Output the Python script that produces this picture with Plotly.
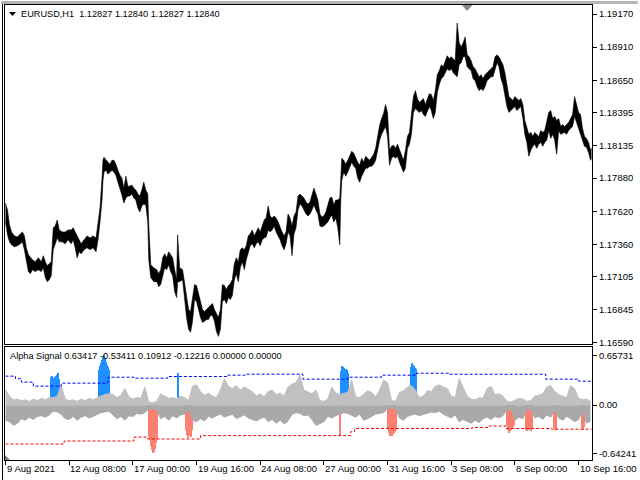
import plotly.graph_objects as go

# ---------------- data: main price pane (EURUSD H1, sampled bars) ----------------
price_bar = [0, 2, 4, 6, 9, 12, 15, 17, 19, 21,
             23, 25, 27, 30, 33, 36, 38, 40, 42, 44,
             46, 48, 50, 52, 54, 57, 60, 63, 66, 68,
             70, 72, 74, 76, 79, 82, 85, 88, 91, 93,
             95, 97, 98, 99, 101, 103, 105, 107, 109, 111,
             113, 115, 117, 119, 121, 123, 125, 127, 129, 131,
             133, 135, 137, 139, 141, 143, 144, 146, 149, 152,
             154, 156, 158, 160, 162, 164, 166, 168, 170, 172,
             173, 175, 178, 180, 182, 184, 186, 188, 190, 192,
             194, 196, 198, 200, 202, 204, 206, 208, 210, 212,
             214, 216, 218, 220, 222, 224, 226, 228, 230, 232,
             234, 236, 238, 240, 242, 244, 246, 248, 250, 252,
             254, 256, 258, 260, 262, 264, 266, 268, 270, 272,
             274, 276, 278, 280, 282, 284, 286, 288, 290, 292,
             294, 296, 298, 300, 302, 304, 306, 308, 310, 312,
             314, 316, 318, 320, 322, 324, 326, 328, 330, 332,
             334, 336, 337, 338, 340, 342, 344, 346, 348, 350,
             352, 354, 356, 358, 360, 362, 364, 366, 368, 370,
             372, 374, 376, 378, 380, 382, 384, 386, 388, 390,
             392, 394, 396, 398, 400, 402, 404, 406, 408, 410,
             412, 414, 416, 418, 420, 422, 424, 426, 428, 430,
             432, 434, 436, 438, 440, 442, 444, 446, 448, 450,
             452, 454, 456, 458, 460, 462, 464, 466, 468, 470,
             472, 474, 476, 478, 480, 482, 484, 486, 488, 490,
             492, 494, 496, 498, 500, 502, 504, 506, 508, 510,
             512, 514, 516, 518, 520, 522, 524, 526, 528, 530,
             532, 534, 536, 538, 540, 542, 544, 546, 548, 550,
             552, 554, 556, 558, 560, 562, 564, 566, 568, 570,
             572, 574, 576, 578, 580, 582, 584, 586, 588, 589]

price_high = [1.17684, 1.17629, 1.17512, 1.17457, 1.17426, 1.17418, 1.17442, 1.17457, 1.17426, 1.17332,
              1.17278, 1.17254, 1.17238, 1.17223, 1.17254, 1.17223, 1.17270, 1.17223, 1.17192, 1.17207,
              1.17223, 1.17489, 1.17504, 1.17551, 1.17473, 1.17457, 1.17457, 1.17473, 1.17473, 1.17489,
              1.17457, 1.17426, 1.17395, 1.17364, 1.17395, 1.17426, 1.17410, 1.17426, 1.17410, 1.17520,
              1.17645, 1.17880, 1.18020, 1.18044, 1.18020, 1.18005, 1.17989, 1.18020, 1.18020, 1.17989,
              1.17942, 1.17903, 1.17880, 1.17801, 1.17895, 1.17817, 1.17817, 1.17825, 1.17801, 1.17786,
              1.17755, 1.17739, 1.17786, 1.17848, 1.17786, 1.17755, 1.17512, 1.17199, 1.17176, 1.17160,
              1.17129, 1.17160, 1.17254, 1.17285, 1.17254, 1.17301, 1.17278, 1.17254, 1.17160, 1.17082,
              1.17434, 1.17176, 1.17160, 1.17066, 1.16957, 1.16847, 1.16832, 1.16926, 1.17043, 1.17035,
              1.16973, 1.16910, 1.16847, 1.16832, 1.16847, 1.16863, 1.16879, 1.16894, 1.16847, 1.16816,
              1.16785, 1.16847, 1.17043, 1.17035, 1.17004, 1.17035, 1.17051, 1.17082, 1.17207, 1.17254,
              1.17223, 1.17317, 1.17332, 1.17317, 1.17348, 1.17426, 1.17442, 1.17473, 1.17426, 1.17457,
              1.17489, 1.17457, 1.17504, 1.17551, 1.17567, 1.17661, 1.17583, 1.17567, 1.17583, 1.17567,
              1.17536, 1.17489, 1.17457, 1.17426, 1.17457, 1.17598, 1.17567, 1.17504, 1.17583, 1.17614,
              1.17739, 1.17755, 1.17739, 1.17723, 1.17692, 1.17676, 1.17692, 1.17739, 1.17801, 1.17755,
              1.17708, 1.17598, 1.17575, 1.17583, 1.17614, 1.17669, 1.17723, 1.17731, 1.17669, 1.17708,
              1.17708, 1.17723, 1.17958, 1.18036, 1.18020, 1.17989, 1.18020, 1.18060, 1.18091, 1.18075,
              1.18036, 1.18005, 1.17981, 1.18036, 1.18005, 1.18052, 1.18036, 1.18020, 1.18044, 1.18067,
              1.18114, 1.18216, 1.18294, 1.18349, 1.18388, 1.18458, 1.18396, 1.18099, 1.18130, 1.18138,
              1.18114, 1.18146, 1.18099, 1.18067, 1.18020, 1.18099, 1.18208, 1.18239, 1.18411, 1.18521,
              1.18568, 1.18505, 1.18474, 1.18490, 1.18505, 1.18458, 1.18505, 1.18544, 1.18537, 1.18490,
              1.18568, 1.18693, 1.18724, 1.18771, 1.18756, 1.18802, 1.18842, 1.18818, 1.18834, 1.18818,
              1.18802, 1.19100, 1.18943, 1.18912, 1.18943, 1.18990, 1.18849, 1.18834, 1.18802, 1.18756,
              1.18740, 1.18709, 1.18677, 1.18693, 1.18662, 1.18693, 1.18709, 1.18724, 1.18740, 1.18756,
              1.18834, 1.18849, 1.18834, 1.18802, 1.18771, 1.18709, 1.18615, 1.18521, 1.18505, 1.18490,
              1.18521, 1.18505, 1.18490, 1.18505, 1.18458, 1.18333, 1.18286, 1.18224, 1.18239, 1.18208,
              1.18239, 1.18224, 1.18208, 1.18255, 1.18239, 1.18255, 1.18318, 1.18396, 1.18411, 1.18349,
              1.18365, 1.18333, 1.18349, 1.18286, 1.18302, 1.18286, 1.18302, 1.18318, 1.18349, 1.18380,
              1.18521, 1.18458, 1.18396, 1.18380, 1.18271, 1.18208, 1.18192, 1.18161, 1.18099, 1.18114]

price_low = [1.17536, 1.17434, 1.17379, 1.17356, 1.17340, 1.17348, 1.17364, 1.17379, 1.17317, 1.17223,
             1.17145, 1.17129, 1.17160, 1.17145, 1.17160, 1.17145, 1.17176, 1.17098, 1.17066, 1.17082,
             1.17113, 1.17317, 1.17371, 1.17410, 1.17379, 1.17379, 1.17364, 1.17395, 1.17364, 1.17395,
             1.17332, 1.17254, 1.17301, 1.17285, 1.17317, 1.17332, 1.17317, 1.17332, 1.17301, 1.17395,
             1.17536, 1.17708, 1.17864, 1.17927, 1.17942, 1.17911, 1.17927, 1.17942, 1.17927, 1.17903,
             1.17848, 1.17801, 1.17747, 1.17684, 1.17723, 1.17739, 1.17739, 1.17755, 1.17723, 1.17708,
             1.17645, 1.17614, 1.17661, 1.17676, 1.17669, 1.17536, 1.17238, 1.17098, 1.17066, 1.17066,
             1.17027, 1.17043, 1.17121, 1.17176, 1.17160, 1.17199, 1.17145, 1.17113, 1.16988, 1.16941,
             1.17066, 1.17066, 1.17082, 1.16910, 1.16785, 1.16691, 1.16668, 1.16754, 1.16926, 1.16910,
             1.16847, 1.16785, 1.16746, 1.16754, 1.16769, 1.16769, 1.16801, 1.16801, 1.16754, 1.16675,
             1.16636, 1.16691, 1.16910, 1.16926, 1.16894, 1.16941, 1.16926, 1.16957, 1.17082, 1.17129,
             1.17066, 1.17176, 1.17223, 1.17160, 1.17238, 1.17301, 1.17348, 1.17364, 1.17332, 1.17364,
             1.17379, 1.17348, 1.17395, 1.17410, 1.17418, 1.17473, 1.17457, 1.17473, 1.17504, 1.17457,
             1.17426, 1.17395, 1.17348, 1.17317, 1.17364, 1.17457, 1.17426, 1.17270, 1.17442, 1.17489,
             1.17629, 1.17676, 1.17661, 1.17629, 1.17598, 1.17583, 1.17598, 1.17629, 1.17669, 1.17629,
             1.17598, 1.17504, 1.17497, 1.17504, 1.17520, 1.17536, 1.17567, 1.17590, 1.17536, 1.17567,
             1.17489, 1.17356, 1.17708, 1.17864, 1.17927, 1.17895, 1.17927, 1.17974, 1.18005, 1.17974,
             1.17958, 1.17880, 1.17848, 1.17895, 1.17927, 1.17958, 1.17958, 1.17974, 1.17974, 1.17989,
             1.18020, 1.18099, 1.18177, 1.18224, 1.18255, 1.18286, 1.18208, 1.17981, 1.18036, 1.18052,
             1.18036, 1.18052, 1.18005, 1.17958, 1.17927, 1.17958, 1.18114, 1.18146, 1.18224, 1.18396,
             1.18427, 1.18411, 1.18396, 1.18411, 1.18380, 1.18365, 1.18411, 1.18443, 1.18411, 1.18349,
             1.18396, 1.18552, 1.18615, 1.18662, 1.18677, 1.18709, 1.18740, 1.18724, 1.18740, 1.18709,
             1.18693, 1.18677, 1.18771, 1.18787, 1.18834, 1.18834, 1.18756, 1.18740, 1.18724, 1.18662,
             1.18646, 1.18599, 1.18568, 1.18583, 1.18568, 1.18599, 1.18646, 1.18662, 1.18677, 1.18677,
             1.18740, 1.18787, 1.18756, 1.18662, 1.18615, 1.18521, 1.18443, 1.18396, 1.18411, 1.18427,
             1.18443, 1.18411, 1.18427, 1.18443, 1.18349, 1.18224, 1.18161, 1.18052, 1.18099, 1.18130,
             1.18146, 1.18114, 1.18146, 1.18161, 1.18130, 1.18161, 1.18177, 1.18255, 1.18192, 1.18224,
             1.18177, 1.18067, 1.18255, 1.18224, 1.18232, 1.18239, 1.18224, 1.18255, 1.18271, 1.18286,
             1.18365, 1.18318, 1.18271, 1.18224, 1.18177, 1.18130, 1.18122, 1.18083, 1.18020, 1.18036]

price_ticks = [1.19170, 1.18910, 1.18650, 1.18395, 1.18135, 1.17880,
               1.17620, 1.17360, 1.17105, 1.16845, 1.16590]

# ---------------- data: Alpha Signal indicator pane ----------------
grey_pos = [0.20, 0.12, 0.07, 0.08, 0.06, 0.07, 0.05, 0.08, 0.06, 0.09,
            0.07, 0.10, 0.10, 0.12, 0.26, 0.08, 0.06, 0.07, 0.05, 0.08,
            0.06, 0.09, 0.07, 0.10, 0.12, 0.14, 0.15, 0.14, 0.10, 0.13,
            0.22, 0.11, 0.08, 0.10, 0.09, 0.24, 0.04, 0.03, 0.05, 0.15,
            0.12, 0.09, 0.10, 0.08, 0.12, 0.10, 0.06, 0.25, 0.27, 0.18,
            0.13, 0.16, 0.12, 0.10, 0.20, 0.35, 0.25, 0.22, 0.26, 0.20,
            0.24, 0.21, 0.18, 0.12, 0.15, 0.11, 0.18, 0.20, 0.14, 0.16,
            0.12, 0.24, 0.28, 0.30, 0.40, 0.20, 0.18, 0.15, 0.20, 0.06,
            0.05, 0.08, 0.24, 0.16, 0.14, 0.15, 0.17, 0.33, 0.11, 0.10,
            0.14, 0.19, 0.17, 0.11, 0.20, 0.33, 0.30, 0.06, 0.05, 0.17,
            0.19, 0.24, 0.26, 0.20, 0.10, 0.12, 0.19, 0.18, 0.25, 0.27,
            0.24, 0.22, 0.12, 0.10, 0.35, 0.24, 0.12, 0.08, 0.07, 0.10,
            0.09, 0.22, 0.25, 0.14, 0.15, 0.12, 0.05, 0.04, 0.07, 0.09,
            0.08, 0.05, 0.06, 0.12, 0.13, 0.15, 0.24, 0.26, 0.18, 0.14,
            0.12, 0.10, 0.26, 0.22, 0.09, 0.07, 0.08, 0.05]

grey_neg = [-0.20, -0.22, -0.27, -0.24, -0.18, -0.20, -0.16, -0.19, -0.15, -0.14,
            -0.16, -0.13, -0.08, -0.09, -0.12, -0.18, -0.19, -0.15, -0.20, -0.16,
            -0.14, -0.17, -0.15, -0.12, -0.10, -0.09, -0.08, -0.13, -0.18, -0.15,
            -0.20, -0.14, -0.15, -0.11, -0.12, -0.10, -0.05, -0.05, -0.06, -0.18,
            -0.15, -0.20, -0.14, -0.17, -0.13, -0.12, -0.06, -0.20, -0.22, -0.18,
            -0.21, -0.15, -0.17, -0.14, -0.12, -0.16, -0.14, -0.12, -0.18, -0.15,
            -0.13, -0.17, -0.19, -0.21, -0.18, -0.16, -0.22, -0.19, -0.24, -0.20,
            -0.25, -0.21, -0.12, -0.10, -0.11, -0.14, -0.13, -0.19, -0.27, -0.25,
            -0.22, -0.15, -0.17, -0.14, -0.12, -0.10, -0.11, -0.13, -0.16, -0.12,
            -0.20, -0.18, -0.15, -0.12, -0.11, -0.10, -0.05, -0.04, -0.05, -0.17,
            -0.20, -0.15, -0.13, -0.12, -0.14, -0.12, -0.11, -0.09, -0.10, -0.08,
            -0.12, -0.14, -0.17, -0.13, -0.22, -0.19, -0.21, -0.24, -0.20, -0.23,
            -0.18, -0.16, -0.19, -0.15, -0.17, -0.14, -0.06, -0.05, -0.20, -0.16,
            -0.18, -0.06, -0.05, -0.17, -0.15, -0.19, -0.13, -0.16, -0.07, -0.17,
            -0.20, -0.15, -0.18, -0.22, -0.19, -0.08, -0.24, -0.21]
grey_bar = list(range(0, 4 * len(grey_pos), 4))

blue_bar = [46, 47, 48, 49, 50, 51, 52, 53, 54,
            94, 95, 96, 97, 98, 99, 100, 101, 102, 103, 104,
            173,
            337, 338, 339, 340, 341, 342, 343, 344,
            408, 409, 410, 411, 412, 413]
blue_val = [0.37, 0.39, 0.36, 0.35, 0.37, 0.38, 0.40, 0.42, 0.35,
            0.46, 0.51, 0.55, 0.59, 0.63, 0.65731, 0.62, 0.57, 0.53, 0.50, 0.46,
            0.42,
            0.45, 0.51, 0.50, 0.49, 0.47, 0.48, 0.46, 0.43,
            0.50, 0.56, 0.53, 0.51, 0.49, 0.48]

red_bar = [144, 145, 146, 147, 148, 149, 150, 151, 152,
           181, 182, 183, 184, 185, 186, 187,
           336,
           384, 385, 386, 387, 388, 389, 390, 391, 392, 393,
           504, 505, 506, 507, 508, 509, 510, 511,
           523, 524, 525, 526, 527, 528, 529,
           551, 552, 553,
           579, 580, 581]
red_val = [-0.43, -0.47, -0.54, -0.60, -0.64241, -0.63, -0.58, -0.51, -0.45,
           -0.34, -0.40, -0.44, -0.42, -0.37, -0.43, -0.34,
           -0.42,
           -0.32, -0.37, -0.41, -0.42, -0.41, -0.39, -0.37, -0.36, -0.35, -0.34,
           -0.28, -0.34, -0.38, -0.35, -0.33, -0.31, -0.29, -0.27,
           -0.33, -0.35, -0.34, -0.29, -0.34, -0.35, -0.32,
           -0.31, -0.34, -0.32,
           -0.31, -0.34, -0.30]

upper_bar = [0, 10, 16, 28, 56, 103, 129, 163, 223, 241, 299, 344, 378, 413, 446, 543, 576, 589]
upper_val = [0.385, 0.35, 0.305, 0.252, 0.292, 0.371, 0.358, 0.38, 0.398, 0.411,
             0.345, 0.371, 0.398, 0.424, 0.41, 0.345, 0.318, 0.318]

lower_bar = [0, 59, 129, 143, 196, 347, 351, 469, 486, 503, 549, 589]
lower_val = [-0.517, -0.477, -0.424, -0.45, -0.405, -0.354, -0.31, -0.296, -0.278,
             -0.31, -0.32, -0.32]

ind_ticks = [0.65731, 0.0, -0.64241]
ind_tick_text = ["0.65731", "0.00", "-0.64241"]

time_tick_bar = [0, 64, 128, 192, 256, 320, 384, 448, 512, 576]
time_tick_text = ["9 Aug 2021", "12 Aug 08:00", "17 Aug 00:00", "19 Aug 16:00",
                  "24 Aug 08:00", "27 Aug 00:00", "31 Aug 16:00", "3 Sep 08:00",
                  "8 Sep 00:00", "10 Sep 16:00"]

header_text = "EURUSD,H1 \u00a01.12827 1.12840 1.12827 1.12840"
ind_text = "Alpha Signal 0.63417 -0.53411 0.10912 -0.12216 0.00000 0.00000"

# ---------------- figure ----------------
FONT = "Liberation Sans, Arial, sans-serif"
W, H = 640, 480
ML, MR, MT, MB = 4, 46, 4, 20
PW, PH = W - ML - MR, H - MT - MB


def px(x):
    return (x - ML) / PW


def py(y):
    return (H - MB - y) / PH


fig = go.Figure()

fig.add_trace(go.Scatter(x=price_bar, y=price_high, mode="lines",
                         line=dict(color="black", width=0.6), xaxis="x", yaxis="y",
                         hoverinfo="skip"))
fig.add_trace(go.Scatter(x=price_bar, y=price_low, mode="lines",
                         line=dict(color="black", width=0.6), fill="tonexty",
                         fillcolor="black", xaxis="x", yaxis="y", hoverinfo="skip"))

fig.add_trace(go.Scatter(x=grey_bar, y=grey_pos, mode="lines",
                         line=dict(color="#c0c0c0", width=1), fill="tozeroy",
                         fillcolor="#c0c0c0", xaxis="x2", yaxis="y2", hoverinfo="skip"))
fig.add_trace(go.Scatter(x=grey_bar, y=grey_neg, mode="lines",
                         line=dict(color="#a9a9a9", width=1), fill="tozeroy",
                         fillcolor="#a9a9a9", xaxis="x2", yaxis="y2", hoverinfo="skip"))
fig.add_trace(go.Bar(x=blue_bar, y=blue_val, width=1, marker=dict(color="#1e90ff", line=dict(width=0)),
                     xaxis="x2", yaxis="y2", hoverinfo="skip"))
fig.add_trace(go.Bar(x=red_bar, y=red_val, width=1, marker=dict(color="#fa8072", line=dict(width=0)),
                     xaxis="x2", yaxis="y2", hoverinfo="skip"))
fig.add_trace(go.Scatter(x=upper_bar, y=upper_val, mode="lines", line_shape="hv",
                         line=dict(color="#0000ff", width=1, dash="3px,2px"),
                         xaxis="x2", yaxis="y2", hoverinfo="skip"))
fig.add_trace(go.Scatter(x=lower_bar, y=lower_val, mode="lines", line_shape="hv",
                         line=dict(color="#ff0000", width=1, dash="3px,2px"),
                         xaxis="x2", yaxis="y2", hoverinfo="skip"))

axis_common = dict(showgrid=False, zeroline=False, showline=True, mirror=True,
                   linecolor="black", linewidth=1)
tickfont = dict(family=FONT, size=9.5, color="black")

y_main_bottom = py(344)
y_ind_top = py(347)

fig.update_layout(
    width=W, height=H,
    margin=dict(l=ML, r=MR, t=MT, b=MB),
    paper_bgcolor="white", plot_bgcolor="white",
    showlegend=False, barmode="overlay", bargap=0,
    hovermode=False,
    xaxis=dict(domain=[0, 1], range=[-0.5, 589.5], anchor="y",
               showticklabels=False, ticks="", **axis_common),
    yaxis=dict(domain=[y_main_bottom, 1], range=[1.16574, 1.19241], side="right",
               anchor="x", tickvals=price_ticks,
               ticktext=["%.5f" % v for v in price_ticks],
               ticks="outside", ticklen=4, tickcolor="black", tickfont=tickfont,
               **axis_common),
    xaxis2=dict(domain=[0, 1], range=[-0.5, 589.5], anchor="y2",
                tickvals=time_tick_bar, ticks="outside", ticklen=4, tickcolor="black",
                showticklabels=False, **axis_common),
    yaxis2=dict(domain=[0, y_ind_top], range=[-0.729, 0.769], side="right",
                anchor="x2", tickvals=ind_ticks, ticktext=ind_tick_text,
                ticks="outside", ticklen=4, tickcolor="black", tickfont=tickfont,
                **axis_common),
)

annotations = [
    dict(text=header_text, x=px(18), y=py(13), xref="paper", yref="paper",
         xanchor="left", yanchor="middle", showarrow=False,
         font=dict(family=FONT, size=9.2, color="black")),
    dict(text=ind_text, x=px(7), y=py(356), xref="paper", yref="paper",
         xanchor="left", yanchor="middle", showarrow=False,
         font=dict(family=FONT, size=9.2, color="black")),
]
for b, t in zip(time_tick_bar, time_tick_text):
    annotations.append(dict(text=t, x=b, y=py(469), xref="x2", yref="paper",
                            xanchor="left", yanchor="middle", showarrow=False,
                            xshift=-1,
                            font=dict(family=FONT, size=9.5, color="black")))
fig.update_layout(annotations=annotations)

shapes = [
    # window edge strip at the top and left
    dict(type="rect", xref="paper", yref="paper", x0=px(0), x1=px(640), y0=py(0), y1=py(3),
         fillcolor="#b4b4b4", line=dict(width=0), layer="above"),
    dict(type="line", xref="paper", yref="paper", x0=px(1.5), x1=px(1.5), y0=py(3), y1=py(480),
         line=dict(color="black", width=1)),
    # small menu triangle before the symbol name
    dict(type="path", xref="paper", yref="paper",
         path="M %f,%f L %f,%f L %f,%f Z" % (px(8), py(11), px(15), py(11), px(11.5), py(15)),
         fillcolor="black", line=dict(width=0)),
    # chart shift marker at the top
    dict(type="path", xref="paper", yref="paper",
         path="M %f,%f L %f,%f L %f,%f Z" % (px(463), py(4), px(474), py(4), px(468.5), py(10)),
         fillcolor="#8c8c8c", line=dict(width=0)),
    # small marker at the lower-left of indicator pane
    dict(type="path", xref="paper", yref="paper",
         path="M %f,%f L %f,%f L %f,%f Z" % (px(4), py(455), px(4), py(460), px(9), py(460)),
         fillcolor="#708090", line=dict(width=0)),
]
fig.update_layout(shapes=shapes)

fig.write_html("out.html", config={"displayModeBar": False},
               post_script="document.body.style.margin='0px';")
